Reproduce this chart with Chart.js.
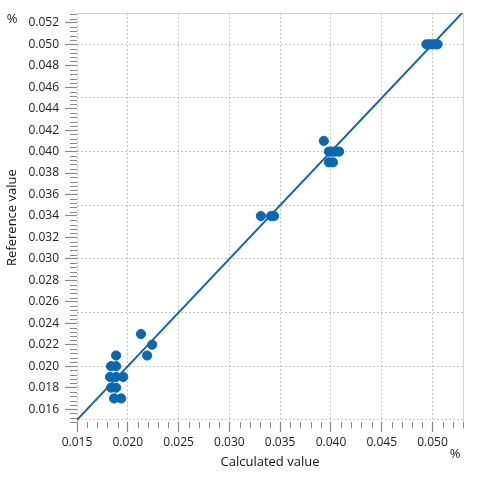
<!DOCTYPE html>
<html lang="en">
<head>
  <meta charset="UTF-8" />
  <title>Reference vs calculated value</title>
  <script src="https://cdn.jsdelivr.net/npm/chart.js"></script>
  <style>
    html, body { margin: 0; padding: 0; background: #fff; }
    #wrap { width: 480px; height: 480px; }
  </style>
</head>
<body>
<div id="wrap"><canvas id="chart" width="480" height="480"></canvas></div>

<script>
// measured points (x = calculated, y = reference), both in %
const calculated = [
  0.01885, 0.01835, 0.01885, 0.01825, 0.01885, 0.01955, 0.01835, 0.01885, 0.01865, 0.01935,
  0.0213, 0.0219, 0.0224,
  0.0331, 0.0341, 0.0344,
  0.0393, 0.0398, 0.0401, 0.0404, 0.0408, 0.0398, 0.0402,
  0.0494, 0.0497, 0.0500, 0.0503, 0.0505
];
const reference = [
  0.021, 0.020, 0.020, 0.019, 0.019, 0.019, 0.018, 0.018, 0.017, 0.017,
  0.023, 0.021, 0.022,
  0.034, 0.034, 0.034,
  0.041, 0.040, 0.040, 0.040, 0.040, 0.039, 0.039,
  0.050, 0.050, 0.050, 0.050, 0.050
];
// identity line y = x
const lineX = [0.0148, 0.053];
const lineY = [0.0148, 0.053];

const xMin = 0.015, xMax = 0.053, xStep = 0.005;
const yMin = 0.0148, yMax = 0.0529, yStep = 0.002, gridStep = 0.005;

const BLUE = '#0a67b0';
const FONT = "'Open Sans', 'DejaVu Sans', sans-serif";

// minor tick marks and the two "%" unit labels
const extras = {
  id: 'extras',
  afterDraw(chart) {
    const { ctx, chartArea: a, scales: { x, y } } = chart;
    ctx.save();
    ctx.strokeStyle = '#8a8a8a';
    ctx.lineWidth = 1;
    ctx.beginPath();
    for (let i = 15; i <= 53; i++) {
      if (i % 5 === 0) continue;
      const px = Math.round(x.getPixelForValue(i / 1000)) + 0.5;
      ctx.moveTo(px, a.bottom);
      ctx.lineTo(px, a.bottom + 6);
    }
    for (let i = 37; i <= 132; i++) {
      if (i % 5 === 0) continue;
      const py = Math.round(y.getPixelForValue(i * 0.0004)) + 0.5;
      ctx.moveTo(a.left - 7, py);
      ctx.lineTo(a.left, py);
    }
    ctx.stroke();

    ctx.fillStyle = '#222';
    ctx.font = '13px ' + FONT;
    ctx.textAlign = 'center';
    ctx.textBaseline = 'middle';
    ctx.fillText('%', 12, 19);
    ctx.fillText('%', 455, 454);
    ctx.restore();
  }
};

const nearMultiple = (v, step) => Math.abs(v / step - Math.round(v / step)) < 1e-6;

new Chart(document.getElementById('chart'), {
  type: 'scatter',
  data: {
    datasets: [
      {
        data: calculated.map((v, i) => ({ x: v, y: reference[i] })),
        backgroundColor: BLUE,
        borderColor: BLUE,
        pointRadius: 4.6,
        pointHoverRadius: 4.6,
        order: 1
      },
      {
        data: lineX.map((v, i) => ({ x: v, y: lineY[i] })),
        showLine: true,
        borderColor: '#0d63a6',
        borderWidth: 2,
        pointRadius: 0,
        fill: false,
        order: 2
      }
    ]
  },
  plugins: [extras],
  options: {
    responsive: false,
    animation: false,
    events: [],
    layout: { padding: { top: 7, right: 17, bottom: 10, left: 0 } },
    plugins: { legend: { display: false }, tooltip: { enabled: false } },
    scales: {
      x: {
        type: 'linear',
        position: 'bottom',
        min: xMin,
        max: xMax,
        ticks: {
          stepSize: xStep,
          includeBounds: false,
          autoSkip: false,
          maxRotation: 0,
          padding: 3,
          color: '#222',
          font: { family: FONT, size: 12 },
          callback: v => v.toFixed(3)
        },
        grid: {
          color: '#c4c4c4',
          lineWidth: 1,
          tickColor: '#8a8a8a',
          tickLength: 10,
          tickWidth: 1.2
        },
        border: { display: false, dash: [2, 2] },
        title: {
          display: true,
          text: 'Calculated value',
          color: '#111',
          font: { family: FONT, size: 13 },
          padding: { top: 2, bottom: 0 }
        }
      },
      y: {
        type: 'linear',
        position: 'left',
        min: yMin,
        max: yMax,
        afterFit: s => { s.width = 77; },
        ticks: {
          stepSize: yStep,
          includeBounds: false,
          autoSkip: false,
          padding: 6,
          color: '#222',
          font: { family: FONT, size: 12 },
          callback: v => nearMultiple(v, yStep) ? v.toFixed(3) : ''
        },
        grid: {
          drawOnChartArea: false,
          tickColor: '#8a8a8a',
          tickLength: 12,
          tickWidth: 1.2
        },
        border: { display: false },
        title: {
          display: true,
          text: 'Reference value',
          color: '#111',
          font: { family: FONT, size: 13 },
          padding: { top: 4, bottom: 0 }
        }
      },
      // right axis: horizontal dotted grid every 0.005 and the right frame line
      y2: {
        type: 'linear',
        position: 'right',
        min: yMin,
        max: yMax,
        ticks: { display: false, stepSize: gridStep, includeBounds: false },
        grid: { color: '#c4c4c4', lineWidth: 1, drawTicks: false },
        border: { display: true, color: '#d4d4d4', width: 1, dash: [2, 2] }
      },
      // top axis: only the top frame line
      x2: {
        type: 'linear',
        position: 'top',
        min: xMin,
        max: xMax,
        ticks: { display: false },
        grid: { display: false, drawTicks: false },
        border: { display: true, color: '#d4d4d4', width: 1 }
      }
    }
  }
});
</script>
</body>
</html>
